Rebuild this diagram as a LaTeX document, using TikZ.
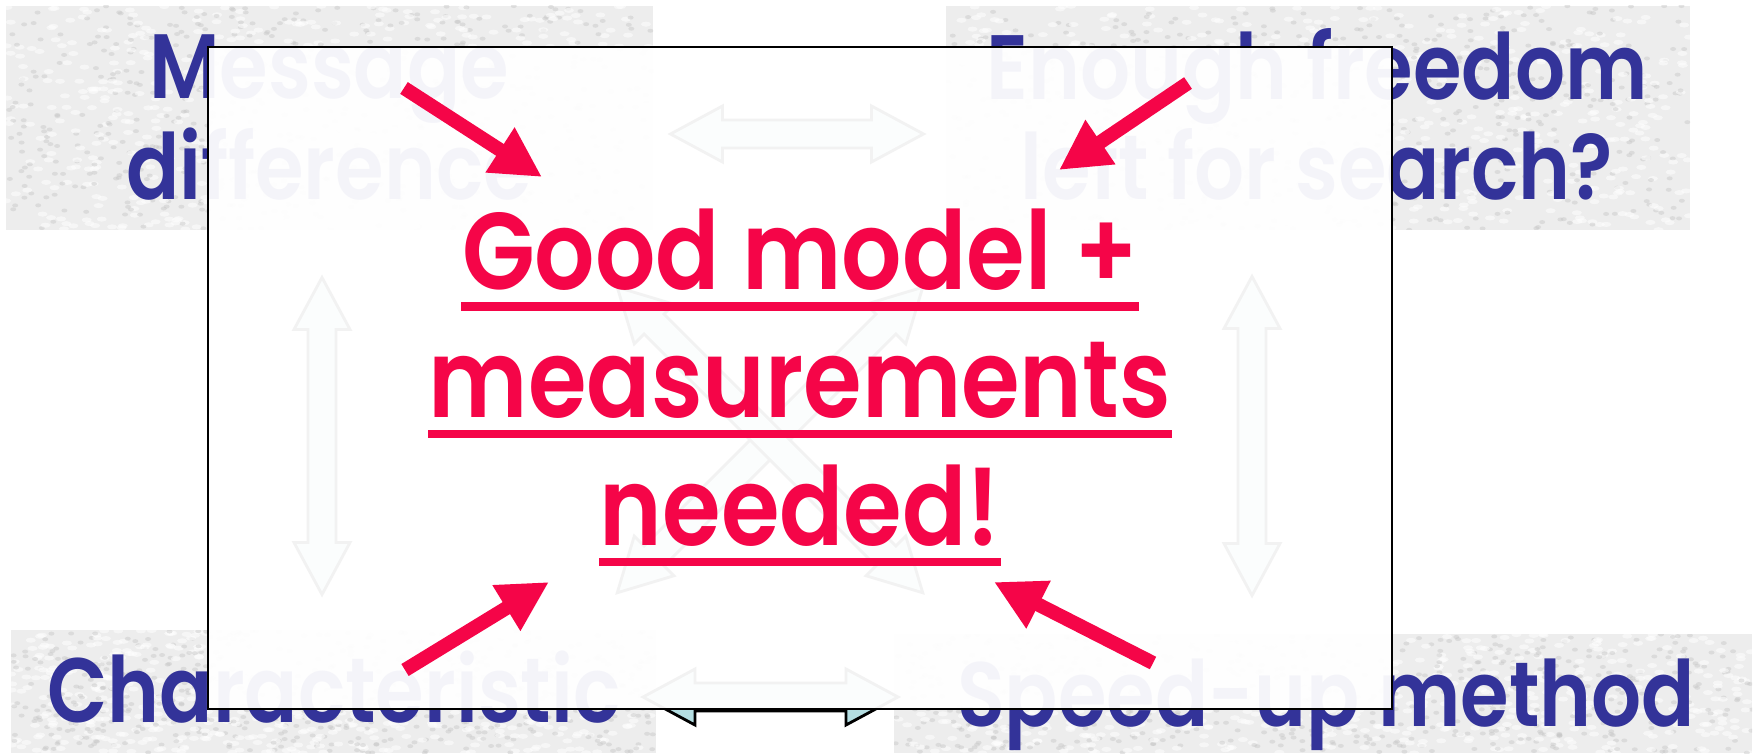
\documentclass[tikz,border=0pt]{standalone}
\usepackage{fontspec}
\usepackage{tikz}
\usetikzlibrary{arrows.meta,calc,positioning}
\newfontfamily\blaufont{Poppins SemiBold}[FakeStretch=0.86]
\newfontfamily\rotfont{Poppins SemiBold}[FakeStretch=0.87]
\definecolor{textblau}{RGB}{51,51,153}
\definecolor{textrot}{RGB}{245,5,72}
\definecolor{pfeilcyan}{RGB}{180,222,226}
\tikzset{
  grauBox/.style={inner sep=0pt, fill=gray!14,
    path picture={
      \path (path picture bounding box.south west) coordinate (sw)
            (path picture bounding box.north east) coordinate (ne);
      %Granit-Muster aus kleinen Flecken
      \foreach \k in {1,...,600}{
        \fill[white,opacity=0.55] let \p1=(sw), \p2=(ne) in
          ({\x1+rnd*(\x2-\x1)},{\y1+rnd*(\y2-\y1)}) ellipse (0.05 and 0.025);
        \fill[gray!45,opacity=0.45] let \p1=(sw), \p2=(ne) in
          ({\x1+rnd*(\x2-\x1)},{\y1+rnd*(\y2-\y1)}) ellipse (0.03 and 0.02);
      }
    }},
  blauText/.style={text=textblau, font=\blaufont\fontsize{26}{31}\selectfont, inner sep=0pt, anchor=base},
  rotText/.style={text=textrot, font=\rotfont\fontsize{31}{37}\selectfont, inner sep=0pt, anchor=base},
  rotLinie/.style={textrot, line width=0.08cm},
  rotPfeil/.style={textrot, line width=0.14cm, -{Triangle[length=0.5cm,width=0.5cm]}},
  pfeilBlock/.style={fill=pfeilcyan, draw=black, line width=0.8pt},
  ueberlagerung/.style={draw=black, line width=0.8pt, fill=white, fill opacity=0.95, inner sep=0pt}
}
%Doppelpfeil: Mitte, Winkel, halbe Laenge
\newcommand{\blockpfeil}[3]{%
  \begin{scope}[shift={(#1)}, rotate=#2]
    \filldraw[pfeilBlock] (-#3,0) -- ++(0.52,0.28) -- ++(0,-0.14) -- ({#3-0.52},0.14) -- ++(0,0.14) -- (#3,0)
      -- ++(-0.52,-0.28) -- ++(0,0.14) -- ({-#3+0.52},-0.14) -- ++(0,-0.14) -- cycle;
  \end{scope}}

\begin{document}
\begin{tikzpicture}
\pgfmathsetseed{7}
\useasboundingbox (0,0) rectangle (17.59,7.53);
\fill[white] (0,0) rectangle (17.59,7.53);
%Die vier Kaesten
\node[grauBox, minimum width=6.47cm, minimum height=2.24cm] (boxMsg) at (3.295,6.35) {};
\node[grauBox, minimum width=7.44cm, minimum height=2.24cm] (boxFrei) at (13.18,6.35) {};
\node[grauBox, minimum width=6.45cm, minimum height=1.23cm] (boxChar) at (3.335,0.615) {};
\node[grauBox, minimum width=8.58cm, minimum height=1.19cm] (boxSpeed) at (13.23,0.595) {};
\node[blauText] (msgA) at (3.29,6.54) {Message};
\node[blauText] (msgB) at (3.29,5.53) {difference};
\node[blauText] (freiA) at (13.17,6.53) {Enough freedom};
\node[blauText] (freiB) at (13.17,5.53) {left for search?};
\node[blauText] (charA) at (3.34,0.31) {Characteristic};
\node[blauText] (speedA) at (13.26,0.27) {Speed-up method};
%Verbindungspfeile
\coordinate (pfOben) at (7.97,6.19);
\coordinate (pfUnten) at (7.705,0.56);
\coordinate (pfLinks) at (3.22,3.17);
\coordinate (pfRechts) at (12.52,3.17);
\coordinate (pfKreuz) at (7.70,3.13);
\blockpfeil{pfOben}{0}{1.265}
\blockpfeil{pfUnten}{0}{1.275}
\blockpfeil{pfLinks}{90}{1.585}
\blockpfeil{pfRechts}{90}{1.595}
\blockpfeil{pfKreuz}{45}{2.16}
\blockpfeil{pfKreuz}{-45}{2.16}
%Weisses Blatt darueber
\node[ueberlagerung, minimum width=11.84cm, minimum height=6.62cm] (blatt) at (8.0,3.75) {};
\node[rotText] (zeileA) at (8.0,4.63) {Good model +};
\node[rotText] (zeileB) at (8.0,3.36) {measurements};
\node[rotText] (zeileC) at (8.0,2.08) {needed!};
\foreach \z in {zeileA,zeileB,zeileC}{
\draw[rotLinie] ([yshift=-0.165cm]\z.base west) -- ([yshift=-0.165cm]\z.base east);
}
%Rote Pfeile zur Mitte
\coordinate (olA) at (4.04,6.65);   \coordinate (olB) at (5.42,5.76);
\coordinate (orA) at (11.88,6.70);  \coordinate (orB) at (10.59,5.83);
\coordinate (ulA) at (4.05,0.83);   \coordinate (ulB) at (5.49,1.71);
\coordinate (urA) at (11.53,0.90);  \coordinate (urB) at (9.94,1.71);
\foreach \a/\b in {olA/olB,orA/orB,ulA/ulB,urA/urB}{
\draw[rotPfeil] (\a) -- (\b);
}
\end{tikzpicture}
\end{document}
